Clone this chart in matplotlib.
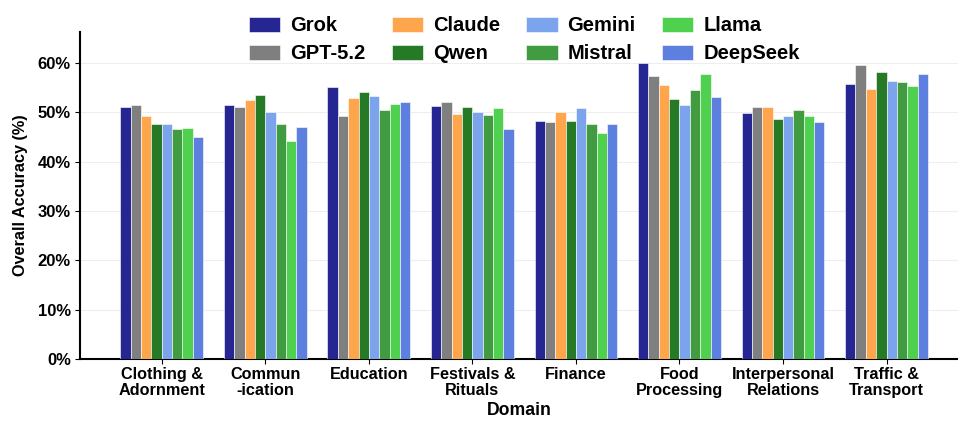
import numpy as np
from matplotlib import pyplot as plt
from matplotlib.ticker import FuncFormatter

plt.rcParams['font.family'] = ['Liberation Sans', 'DejaVu Sans']
plt.rcParams['font.weight'] = 'bold'

domains = ["Clothing &\nAdornment", "Commun\n-ication", "Education", "Festivals &\nRituals",
	"Finance", "Food\nProcessing", "Interpersonal\nRelations", "Traffic &\nTransport"]

models = ["Grok", "GPT-5.2", "Claude", "Qwen", "Gemini", "Mistral", "Llama", "DeepSeek"]
colors = ["#262693", "#7f7f7f", "#ffa64d", "#267a26", "#7ba4ec", "#419c41", "#4fd14f", "#5c7fe0"]

# accuracy (%) per model, one value per domain
grok     = [51.0, 51.5, 55.1, 51.3, 48.3, 60.1, 49.9, 55.8]
gpt52    = [51.5, 51.0, 49.3, 52.2, 48.0, 57.4, 51.1, 59.7]
claude   = [49.3, 52.6, 53.0, 49.7, 50.1, 55.6, 51.1, 54.7]
qwen     = [47.6, 53.6, 54.2, 51.0, 48.3, 52.7, 48.6, 58.1]
gemini   = [47.6, 50.1, 53.4, 50.1, 50.9, 51.6, 49.2, 56.4]
mistral  = [46.6, 47.6, 50.5, 49.5, 47.6, 54.6, 50.4, 56.1]
llama    = [46.8, 44.3, 51.8, 50.9, 45.8, 57.7, 49.2, 55.4]
deepseek = [45.1, 47.0, 52.2, 46.6, 47.6, 53.2, 48.0, 57.7]

series = [grok, gpt52, claude, qwen, gemini, mistral, llama, deepseek]

fig = plt.figure(figsize=(9.58, 4.21), dpi=100)
ax = fig.add_axes([0.0835, 0.147, 0.9165, 0.777])

x = np.arange(len(domains))
width = 0.1
for i, (name, vals, col) in enumerate(zip(models, series, colors)):
	offset = (i - 3.5) * width
	ax.bar(x + offset, vals, width, label=name, color=col, edgecolor="white", linewidth=0.4, zorder=3)

ax.set_xlim(-0.79, 7.69)
ax.set_ylim(0, 66.3)
ax.set_yticks(range(0, 61, 10))
ax.yaxis.set_major_formatter(FuncFormatter(lambda v, p: "{:.0f}%".format(v)))
ax.set_xticks(x)
ax.set_xticklabels(domains, fontsize=11.7, fontweight="bold", linespacing=1.1)
ax.tick_params(axis="y", labelsize=12, pad=3)
ax.tick_params(axis="x", pad=2)
ax.set_ylabel("Overall Accuracy (%)", fontsize=11.7, fontweight="bold", labelpad=7)
ax.set_xlabel("Domain", fontsize=12.7, fontweight="bold", labelpad=3)

ax.grid(axis="y", color="#eeeeee", linewidth=0.8, zorder=0)
ax.spines["top"].set_visible(False)
ax.spines["right"].set_visible(False)
ax.spines["left"].set_linewidth(1.5)
ax.spines["bottom"].set_linewidth(1.5)

ax.legend(ncol=4, loc="center", bbox_to_anchor=(0.506, 0.976), frameon=False,
	prop={"weight": "bold", "size": 14.5}, handlelength=1.55, handleheight=0.75,
	handletextpad=0.5, columnspacing=1.3, labelspacing=0.45)

fig.savefig("out.png", dpi=100)
